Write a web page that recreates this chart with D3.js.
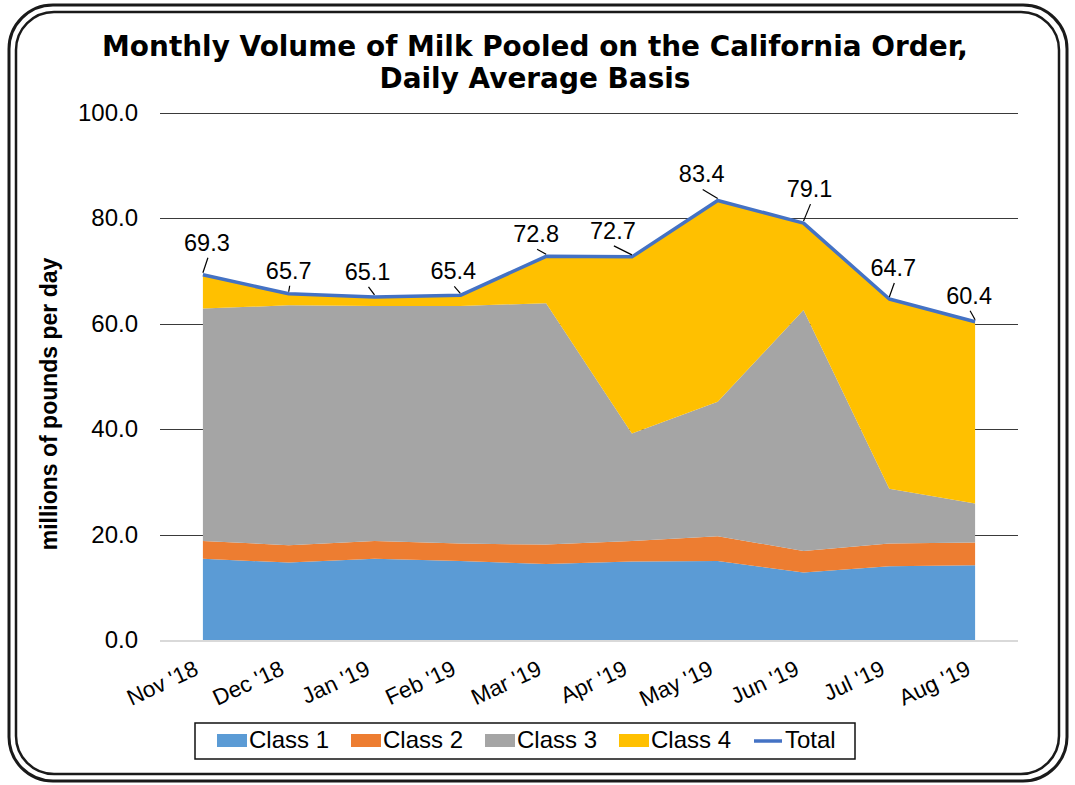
<!DOCTYPE html>
<html>
<head>
<meta charset="utf-8">
<script src="https://cdn.jsdelivr.net/npm/d3@7"></script>
<style>
  body { margin: 0; background: #fff; }
  text { font-family: "Liberation Sans", Arial, sans-serif; fill: #000; }
</style>
</head>
<body>
<div id="graph"></div>
<script>
const MONTHS = ["Nov '18", "Dec '18", "Jan '19", "Feb '19", "Mar '19",
                "Apr '19", "May '19", "Jun '19", "Jul '19", "Aug '19"];

const CLASS_1 = [15.4, 14.7, 15.4, 15.0, 14.4, 14.9, 15.0, 12.8, 14.0, 14.2];
const CLASS_2 = [3.4, 3.3, 3.4, 3.3, 3.7, 3.9, 4.7, 4.1, 4.3, 4.3];
const CLASS_3 = [44.1, 45.5, 44.6, 45.1, 45.8, 20.4, 25.5, 45.7, 10.4, 7.4];
const CLASS_4 = [6.4, 2.2, 1.7, 2.0, 8.9, 33.5, 38.2, 16.5, 36.0, 34.5];
const TOTAL = [69.3, 65.7, 65.1, 65.4, 72.8, 72.7, 83.4, 79.1, 64.7, 60.4];

const Y_TICKS = [0, 20, 40, 60, 80, 100];

const SERIES = ["Class 1", "Class 2", "Class 3", "Class 4"];
const COLORS = ["#5B9BD5", "#ED7D31", "#A5A5A5", "#FFC000"];
const TOTAL_COLOR = "#4472C4";

// where each total label sits relative to its point (label centre, baseline)
const LABEL_NUDGE = [[4, -24], [0, -15], [-7, -17], [-7, -16], [-10, -14],
                     [-19, -18], [-16, -18], [6, -26], [4, -23], [-6, -18]];

const W = 1075, H = 785;
const plot = {left: 160, right: 1018, top: 113, bottom: 640};

var x = d3.scalePoint().domain(MONTHS).range([plot.left, plot.right]).padding(0.5);
var y = d3.scaleLinear().domain([0, 100]).range([plot.bottom, plot.top]);

const rows = MONTHS.map((m, i) => ({
  month: m,
  "Class 1": CLASS_1[i],
  "Class 2": CLASS_2[i],
  "Class 3": CLASS_3[i],
  "Class 4": CLASS_4[i]
}));

const stacked = d3.stack().keys(SERIES)(rows);

var area = d3.area()
    .x((d) => x(d.data.month))
    .y0((d) => y(d[0]))
    .y1((d) => y(d[1]));

var line_total = d3.line()
    .x((d, i) => x(MONTHS[i]))
    .y((d) => y(d));

const draw_frame = (svg) => {
  svg.append("rect")
      .attr("x", 9).attr("y", 5)
      .attr("width", 1058).attr("height", 776)
      .attr("rx", 44).attr("ry", 44)
      .style("fill", "none").style("stroke", "#1a1a1a").style("stroke-width", 3);
  svg.append("rect")
      .attr("x", 16).attr("y", 12)
      .attr("width", 1043).attr("height", 762)
      .attr("rx", 38).attr("ry", 38)
      .style("fill", "none").style("stroke", "#1a1a1a").style("stroke-width", 2.5);
}

const draw_title = (svg) => {
  const lines = ["Monthly Volume of Milk Pooled on the California Order,",
                 "Daily Average Basis"];
  const t = svg.append("text")
      .attr("text-anchor", "middle")
      .style("font-family", "'DejaVu Sans', Verdana, sans-serif")
      .style("font-weight", "bold")
      .style("font-size", "26px");
  t.append("tspan").attr("x", 535).attr("y", 56).text(lines[0]);
  t.append("tspan").attr("x", 535).attr("y", 88).text(lines[1]);
  // squeeze to the width the first line takes in the original
  const w = t.select("tspan").node().getComputedTextLength();
  t.style("font-size", (26 * 866 / w) + "px");
}

const draw_axes = (svg) => {
  svg.append("g")
    .selectAll("line")
    .data(Y_TICKS.filter((v) => v > 0))
    .join("line")
      .attr("x1", plot.left).attr("x2", plot.right)
      .attr("y1", (d) => Math.round(y(d)) + 0.5)
      .attr("y2", (d) => Math.round(y(d)) + 0.5)
      .style("stroke", "#3a3a3a")
      .style("stroke-width", 1);

  svg.append("g")
    .selectAll("text")
    .data(Y_TICKS)
    .join("text")
      .attr("x", 138)
      .attr("y", (d) => y(d) + 8)
      .attr("text-anchor", "end")
      .style("font-size", "24px")
      .text((d) => d.toFixed(1));

  svg.append("text")
      .attr("transform", "translate(57,404) rotate(-90)")
      .attr("text-anchor", "middle")
      .style("font-size", "23px")
      .style("font-weight", "bold")
      .text("millions of pounds per day");

  svg.append("g")
    .selectAll("text")
    .data(MONTHS)
    .join("text")
      .attr("transform", (d) => "translate(" + (x(d) - 3) + ",674) rotate(-25)")
      .attr("text-anchor", "end")
      .style("font-size", "22.5px")
      .text((d) => d);
}

const draw_areas = (svg) => {
  svg.append("g")
    .selectAll("path")
    .data(stacked)
    .join("path")
      .attr("d", area)
      .style("fill", (d, i) => COLORS[i])
      .style("stroke", "none");

  svg.append("line")
      .attr("x1", plot.left).attr("x2", plot.right)
      .attr("y1", y(0) + 1).attr("y2", y(0) + 1)
      .style("stroke", "#d9d9d9")
      .style("stroke-width", 2);

  svg.append("path")
      .attr("d", line_total(TOTAL))
      .style("fill", "none")
      .style("stroke", TOTAL_COLOR)
      .style("stroke-width", 3.5)
      .style("stroke-linejoin", "round");
}

const draw_labels = (svg) => {
  const g = svg.append("g");
  TOTAL.forEach((v, i) => {
    const px = x(MONTHS[i]), py = y(v);
    const lx = px + LABEL_NUDGE[i][0], ly = py + LABEL_NUDGE[i][1];
    g.append("line")
        .attr("x1", px).attr("y1", py - 2)
        .attr("x2", lx + 1).attr("y2", ly + 7)
        .style("stroke", "#000")
        .style("stroke-width", 1.2);
    g.append("text")
        .attr("x", lx).attr("y", ly)
        .attr("text-anchor", "middle")
        .style("font-size", "23.5px")
        .text(v.toFixed(1));
  });
}

const draw_legend = (svg) => {
  svg.append("rect")
      .attr("x", 195).attr("y", 723)
      .attr("width", 660).attr("height", 36)
      .style("fill", "#fff")
      .style("stroke", "#111")
      .style("stroke-width", 1.5);

  const items = SERIES.concat(["Total"]);
  const g = svg.append("g")
    .selectAll("g")
    .data(items)
    .join("g")
      .attr("transform", (d, i) => "translate(" + (217 + i * 134) + ",0)");

  g.filter((d) => d != "Total").append("rect")
      .attr("x", 0).attr("y", 734)
      .attr("width", 30).attr("height", 13)
      .style("fill", (d, i) => COLORS[i]);

  g.filter((d) => d == "Total").append("line")
      .attr("x1", 1).attr("x2", 29)
      .attr("y1", 741).attr("y2", 741)
      .style("stroke", TOTAL_COLOR)
      .style("stroke-width", 3.5);

  g.append("text")
      .attr("x", 32).attr("y", 748)
      .style("font-size", "24px")
      .text((d) => d);
}

const main = () => {
  var svg = d3.select("#graph")
    .append("svg")
      .attr("width", W)
      .attr("height", H);

  draw_frame(svg);
  draw_title(svg);
  draw_axes(svg);
  draw_areas(svg);
  draw_labels(svg);
  draw_legend(svg);
}

main();
</script>
</body>
</html>
